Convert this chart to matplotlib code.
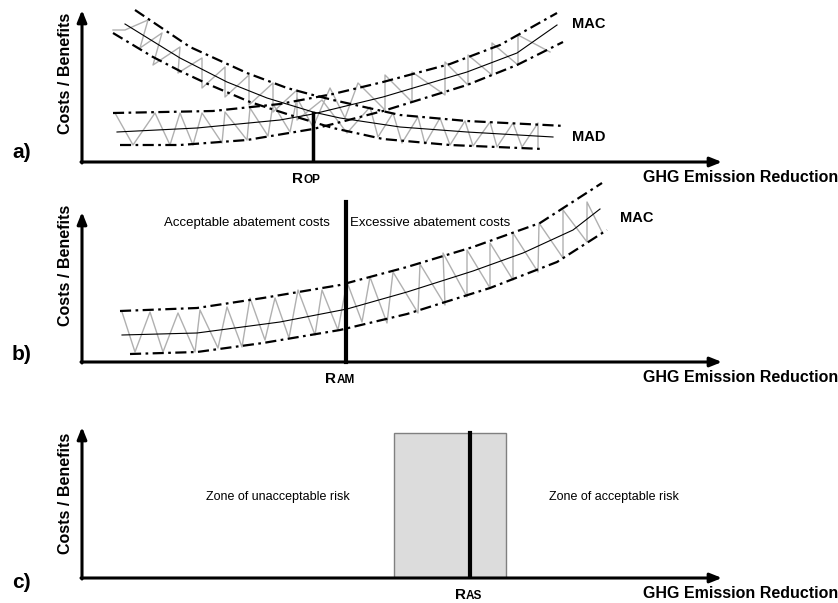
import matplotlib.pyplot as plt
from matplotlib.patches import Rectangle

plt.rcParams['font.family'] = ['Liberation Sans', 'DejaVu Sans']

# units: reduction (x) and cost (y), origin at the axes corner

# ---- panel a ----
mad_x = [43, 98, 145, 185, 231, 258, 318, 385, 471]
mad_y = [138, 104, 80, 64, 50, 44, 35, 30, 25]
mad_hi_x = [53, 108, 165, 205, 231, 251, 318, 385, 483]
mad_hi_y = [152, 115, 89, 74, 67, 62, 47, 41, 36]
mad_lo_x = [31, 71, 98, 128, 168, 208, 231, 251, 301, 368, 461]
mad_lo_y = [129, 105, 91, 77, 60, 47, 40, 34, 23, 17, 13]
mad_zz_x = [31, 43, 66, 58, 80, 71, 98, 96, 120, 120, 143, 143, 167, 167, 191, 191, 215, 215,
            240, 265, 288, 296, 311, 320, 336, 343, 358, 368, 383, 391, 408, 415, 431, 440, 456, 456]
mad_zz_y = [132, 132, 142, 114, 129, 97, 115, 89, 104, 74, 95, 65, 87, 57, 79, 50, 72, 42,
            62, 29, 55, 25, 49, 19, 45, 18, 44, 17, 41, 16, 40, 15, 39, 15, 39, 15]

maca_x = [35, 115, 198, 231, 301, 385, 435, 475]
maca_y = [30, 34, 42, 48, 65, 90, 109, 137]
maca_hi_x = [31, 131, 198, 251, 301, 368, 418, 475]
maca_hi_y = [49, 51, 58, 68, 80, 98, 117, 149]
maca_lo_x = [38, 98, 165, 231, 251, 301, 385, 435, 481]
maca_lo_y = [17, 17, 22, 33, 38, 51, 77, 97, 120]
maca_zz_x = [33, 51, 73, 88, 98, 111, 120, 140, 143, 165, 168, 186, 191, 208, 215, 231, 248, 263,
             276, 303, 303, 330, 330, 363, 363, 386, 386, 410, 410, 436, 436, 468]
maca_zz_y = [49, 17, 49, 17, 49, 17, 49, 19, 50, 22, 54, 26, 58, 30, 64, 35, 74, 44,
             79, 52, 87, 60, 90, 67, 100, 77, 107, 87, 119, 97, 127, 110]
r_op = 231
r_op_top = 49

# ---- panel b ----
macb_x = [40, 115, 198, 265, 325, 391, 441, 491, 518]
macb_y = [27, 29, 40, 53, 70, 91, 109, 132, 153]
macb_hi_x = [38, 115, 181, 258, 325, 391, 458, 520]
macb_hi_y = [51, 54, 64, 77, 95, 115, 139, 179]
macb_lo_x = [48, 115, 181, 258, 325, 408, 475, 525]
macb_lo_y = [8, 10, 19, 32, 48, 74, 100, 132]
macb_zz_x = [40, 53, 68, 81, 96, 113, 118, 136, 145, 160, 168, 183, 193, 207, 216, 233, 240, 256,
             265, 280, 288, 305, 311, 336, 338, 363, 361, 385, 385, 408, 408, 431, 431, 456, 457,
             481, 481, 505, 505, 520]
macb_zz_y = [50, 10, 50, 10, 49, 10, 52, 14, 55, 15, 64, 22, 64, 24, 72, 27, 72, 32,
             80, 40, 85, 39, 90, 49, 98, 57, 109, 65, 112, 74, 119, 82, 129, 90, 139,
             104, 152, 120, 160, 130]
r_am = 264
r_am_top = 160

# ---- panel c ----
zone_lo, zone_hi, zone_h = 312, 424, 145
r_as = 388

# axes boxes in pixels: left, baseline, right, top
W, H = 838, 603
boxes = [(82, 162, 722, 10), (82, 362, 722, 212), (82, 578, 722, 427)]

fig = plt.figure(figsize=(W / 100, H / 100), dpi=100)
axs = []
for l, b, r, t in boxes:
    ax = fig.add_axes([l / W, 1 - b / H, (r - l) / W, (b - t) / H])
    ax.set_xlim(0, r - l)
    ax.set_ylim(0, b - t)
    ax.axis('off')
    axs.append(ax)

band = dict(color='black', lw=1.6, ls=(0, (5, 2, 1.2, 2)), clip_on=False)
zz = dict(color='#b0b0b0', lw=1.0, clip_on=False)
mid = dict(color='black', lw=0.8, clip_on=False)
bold = dict(fontweight='bold', color='black')


def axes_arrows(ax, label_y, panel, panel_y):
    xr, yr = ax.get_xlim()[1], ax.get_ylim()[1]
    ap = dict(arrowstyle='-|>,head_length=0.7,head_width=0.28', lw=2.2, color='black',
              shrinkA=0, shrinkB=0)
    ax.annotate('', xy=(xr, 0), xytext=(-1, 0), arrowprops=ap, annotation_clip=False)
    ax.annotate('', xy=(0, yr), xytext=(0, -1), arrowprops=ap, annotation_clip=False)
    ax.text(-17, label_y, 'Costs / Benefits', rotation=90, ha='center', va='center',
            fontsize=11.5, **bold)
    ax.text(-70, panel_y, panel, ha='left', va='center', fontsize=15, **bold)
    ax.text(756, -16, 'GHG Emission Reduction', ha='right', va='center', fontsize=11.5, **bold)


def r_label(ax, x, sub, dx=-6):
    ax.annotate('R', xy=(x, 0), xytext=(dx, -15), textcoords='offset points',
                ha='right', va='baseline', fontsize=11, annotation_clip=False, **bold)
    ax.annotate(sub, xy=(x, 0), xytext=(dx, -15), textcoords='offset points',
                ha='left', va='baseline', fontsize=8.5, annotation_clip=False, **bold)


# a)
ax = axs[0]
ax.plot(mad_zz_x, mad_zz_y, **zz)
ax.plot(maca_zz_x, maca_zz_y, **zz)
for xs, ys in [(mad_hi_x, mad_hi_y), (mad_lo_x, mad_lo_y), (maca_hi_x, maca_hi_y), (maca_lo_x, maca_lo_y)]:
    ax.plot(xs, ys, **band)
ax.plot(mad_x, mad_y, **mid)
ax.plot(maca_x, maca_y, **mid)
ax.plot([r_op, r_op], [0, r_op_top], color='black', lw=2.5)
ax.text(490, 138, 'MAC', ha='left', va='center', fontsize=10.5, **bold)
ax.text(490, 25, 'MAD', ha='left', va='center', fontsize=10.5, **bold)
axes_arrows(ax, 89, 'a)', 10)
r_label(ax, r_op, 'OP', -7)

# b)
ax = axs[1]
ax.plot(macb_zz_x, macb_zz_y, **zz)
ax.plot(macb_hi_x, macb_hi_y, **band)
ax.plot(macb_lo_x, macb_lo_y, **band)
ax.plot(macb_x, macb_y, **mid)
ax.plot([r_am, r_am], [0, r_am_top], color='black', lw=3, clip_on=False)
ax.text(248, 139, 'Acceptable abatement costs', ha='right', va='center', fontsize=9.5)
ax.text(268, 139, 'Excessive abatement costs', ha='left', va='center', fontsize=9.5)
ax.text(538, 144, 'MAC', ha='left', va='center', fontsize=10.5, **bold)
axes_arrows(ax, 97, 'b)', 7)
r_label(ax, r_am, 'AM', -7)

# c)
ax = axs[2]
ax.add_patch(Rectangle((zone_lo, 0), zone_hi - zone_lo, zone_h, facecolor='#dcdcdc',
                       edgecolor='#808080', lw=1))
ax.plot([r_as, r_as], [0, zone_h], color='black', lw=3)
ax.text(196, 81, 'Zone of unacceptable risk', ha='center', va='center', fontsize=9)
ax.text(532, 81, 'Zone of acceptable risk', ha='center', va='center', fontsize=9)
axes_arrows(ax, 85, 'c)', -5)
r_label(ax, r_as, 'AS', -3)

fig.savefig('out.png', dpi=100)
